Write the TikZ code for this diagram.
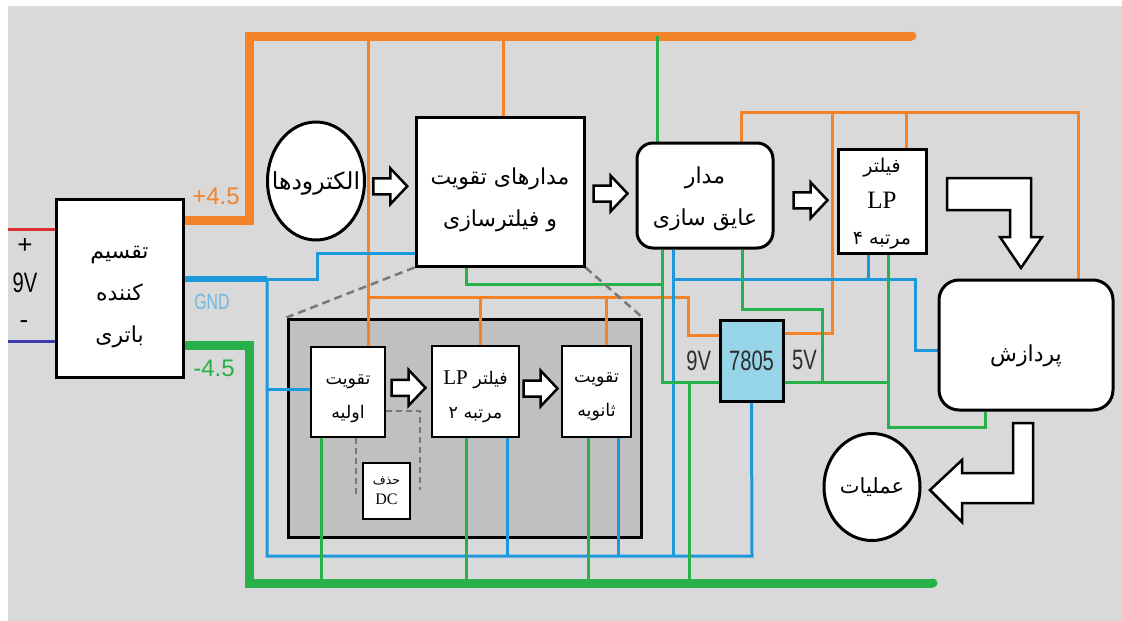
\documentclass[tikz,border=0pt]{standalone}
\usepackage{fontspec}
\setmainfont{Liberation Serif}
\newfontfamily\fafont[Script=Arabic]{DejaVu Sans}
\newfontfamily\lsans{Liberation Sans}
\newfontfamily\lnarrow[FakeStretch=0.72]{Liberation Sans}
\TeXXeTstate=1
\usetikzlibrary{shapes.geometric,calc,backgrounds,positioning}
\pgfdeclarelayer{wires}
\pgfsetlayers{background,wires,main}
\definecolor{wireorange}{RGB}{244,130,40}
\definecolor{wiregreen}{RGB}{40,176,75}
\definecolor{wireblue}{RGB}{30,152,220}
\definecolor{gndblue}{RGB}{110,185,225}
\definecolor{wirered}{RGB}{220,45,55}
\definecolor{wirenavy}{RGB}{60,60,175}
\definecolor{bggray}{RGB}{217,217,217}
\definecolor{insetgray}{RGB}{192,192,192}
\definecolor{regblue}{RGB}{150,212,232}
\definecolor{hintgray}{RGB}{120,120,120}
\definecolor{labelgray}{RGB}{45,45,45}

\begin{document}
\begin{tikzpicture}[x=1pt, y=-1pt,
    box/.style={draw, line width=3pt, fill=white, inner sep=0pt},
    rbox/.style={box, rounded corners=16pt},
    bubble/.style={draw, ellipse, line width=3pt, fill=white, inner sep=0pt},
    inner/.style={box, line width=2.5pt},
    big/.style={align=center, font=\fafont\fontsize{22}{42}\selectfont},
    mid/.style={align=center, font=\fafont\fontsize{17.5}{34}\selectfont},
    wire/.style={line width=3pt},
    bus/.style={line width=9pt},
    hint/.style={draw=hintgray, line width=2.5pt, dash pattern=on 8pt off 5pt},
    arrowshape/.style={draw, fill=white, line width=2.5pt, line join=miter},
    openarrow/.pic={\path[arrowshape] (-17,-8) -- (0,-8) -- (0,-18) -- (17,0) -- (0,18) -- (0,8) -- (-17,8) -- cycle;}
  ]
  \useasboundingbox (0,0) rectangle (1122,621);

  % background and enlarged view of the amplifier block
  \begin{pgfonlayer}{background}
    \fill[white] (0,0) rectangle (1122,621);
    \fill[bggray] (8,6) rectangle (1122,621);
    \node[draw, line width=3pt, fill=insetgray, minimum width=353pt, minimum height=218pt] (inset) at (464.5,428) {};
  \end{pgfonlayer}

  % main blocks
  \node[box, minimum width=127pt, minimum height=178pt,
    label={[big, yshift=-9pt]center:{\beginR تقسیم\endR\\\beginR کننده\endR\\\beginR باتری\endR}}] (batt) at (119.5,288) {};
  \node[bubble, minimum width=97pt, minimum height=118pt,
    label={[font=\fafont\fontsize{23.5}{25}\selectfont, yshift=-2pt]center:{\beginR الکترودها\endR}}] (elec) at (316,181) {};
  \node[box, minimum width=168pt, minimum height=149pt,
    label={[big, yshift=-8pt]center:{\beginR مدارهای تقویت\endR\\\beginR و فیلترسازی\endR}}] (amp) at (500,191.5) {};
  \node[rbox, minimum width=136pt, minimum height=105pt,
    label={[big, yshift=-3pt]center:{\beginR مدار\endR\\\beginR عایق سازی\endR}}] (iso) at (705,195.5) {};
  \node[box, minimum width=88pt, minimum height=104pt,
    label={[align=center, font=\fafont\fontsize{19}{36}\selectfont, yshift=-3pt]center:{\beginR فیلتر\endR\\{\rmfamily\fontsize{25}{30}\selectfont LP}\\\beginR مرتبه ۴\endR}}] (lpf4) at (882,201) {};
  \node[rbox, rounded corners=20pt, minimum width=174pt, minimum height=130pt,
    label={[big, yshift=-11pt]center:{\beginR پردازش\endR}}] (proc) at (1026,345) {};
  \node[bubble, minimum width=96pt, minimum height=107pt,
    label={[font=\fafont\fontsize{21}{25}\selectfont]center:{\beginR عملیات\endR}}] (ops) at (872,487) {};
  \node[draw, line width=3pt, fill=regblue, minimum width=63pt, minimum height=81pt, font=\lnarrow\fontsize{28}{30}\selectfont, text=labelgray] (reg) at (751.5,360.5) {7805};

  % blocks inside the enlarged view
  \node[inner, minimum width=74pt, minimum height=90pt,
    label={[mid, yshift=-7pt]center:{\beginR تقویت\endR\\\beginR اولیه\endR}}] (pre) at (348,392) {};
  \node[inner, minimum width=87pt, minimum height=91pt,
    label={[mid, yshift=-5pt]center:{\beginR فیلتر \beginL{\rmfamily\fontsize{21}{21}\selectfont LP}\endL\endR\\\beginR مرتبه ۲\endR}}] (lpf2) at (475.5,391.5) {};
  \node[inner, minimum width=69pt, minimum height=91pt,
    label={[mid, yshift=-5pt]center:{\beginR تقویت\endR\\\beginR ثانویه\endR}}] (post) at (596.5,391.5) {};
  \node[box, line width=1.5pt, minimum width=47pt, minimum height=56pt,
    label={[align=center, font=\fafont\fontsize{12.5}{20}\selectfont]center:{\beginR حذف\endR\\{\rmfamily\fontsize{16}{16}\selectfont DC}}}] (dcrem) at (386.5,491) {};

  % signal flow arrows
  \pic at ($(elec.east)!0.5!(amp.west)$) {openarrow};
  \pic at ($(amp.east)!0.5!(iso.west)$) {openarrow};
  \pic at ($(iso.east)!0.5!(lpf4.west)+(5,2)$) {openarrow};
  \pic at ($(pre.east)!0.5!(lpf2.west)+(0,-4)$) {openarrow};
  \pic at ($(lpf2.east)!0.5!(post.west)+(0,-3)$) {openarrow};
  \path[arrowshape] (947,178) -- (1031,178) -- (1031,237) -- (1042,237) -- (1021,268) -- (1000,237) -- (1010,237) -- (1010,210) -- (947,210) -- cycle;
  \path[arrowshape] (1013,423) -- (1033,423) -- (1033,503) -- (962,503) -- (962,522) -- (930,490) -- (962,460) -- (962,473) -- (1013,473) -- cycle;

  % supply labels
  \node[font=\lsans\fontsize{24}{24}\selectfont, text=wireorange] (plus-lbl) at (216,196) {+4.5};
  \node[font=\lnarrow\fontsize{22}{22}\selectfont, text=gndblue] (gnd-lbl) at (212,302) {GND};
  \node[font=\lsans\fontsize{24}{24}\selectfont, text=wiregreen] (minus-lbl) at (214,368) {-4.5};
  \node[font=\lsans\fontsize{26}{26}\selectfont] (pos-lbl) at (25,246) {+};
  \node[font=\lnarrow\fontsize{28}{28}\selectfont] (volt-lbl) at (25,283) {9V};
  \node[font=\lsans\fontsize{26}{26}\selectfont] (neg-lbl) at (24,325) {-};
  \node[font=\lnarrow\fontsize{28}{28}\selectfont, text=labelgray, left=4pt of reg] (in-lbl) {9V};
  \node[font=\lnarrow\fontsize{28}{28}\selectfont, text=labelgray, right=4pt of reg] (out-lbl) {5V};

  \begin{pgfonlayer}{wires}
    % battery leads
    \draw[wire, wirered] (8,229) -- (batt.west |- 0,229);
    \draw[wire, wirenavy] (8,341) -- (batt.west |- 0,341);
    % +4.5 rail
    \draw[bus, wireorange] (batt.east |- 0,220) -| (249,36) -- (912,36);
    \fill[wireorange] (912,36) circle (4.5);
    \draw[wire, wireorange] (503,36) -- (503,0 |- amp.north);
    \draw[wire, wireorange] (368,36) -- (368,0 |- pre.north);
    \draw[wire, wireorange] (368,297) -- (688,297) -- (688,335) -- (reg.west |- 0,335);
    \draw[wire, wireorange] (480,297) -- (480,0 |- lpf2.north);
    \draw[wire, wireorange] (606,297) -- (606,0 |- post.north);
    \draw[wire, wireorange] (741,0 |- iso.north) -- (741,112) -- (1078,112) -- (1078,0 |- proc.north);
    \draw[wire, wireorange] (832,112) -- (832,333) -- (reg.east |- 0,333);
    \draw[wire, wireorange] (906,112) -- (906,0 |- lpf4.north);
    % ground
    \draw[line width=6pt, wireblue] (batt.east |- 0,279) -- (267,279);
    \draw[wire, wireblue] (267,279) -- (317,279) -- (317,253) -- (amp.west |- 0,253);
    \draw[wire, wireblue] (267,279) -- (267,556) -- (752,556) -- (reg.south);
    \draw[wire, wireblue] (267,389) -- (pre.west |- 0,389);
    \draw[wire, wireblue] (507,0 |- lpf2.south) -- (507,556);
    \draw[wire, wireblue] (618,0 |- post.south) -- (618,556);
    \draw[wire, wireblue] (673,0 |- iso.south) -- (673,556);
    \draw[wire, wireblue] (673,279) -- (915,279) -- (915,350) -- (proc.west |- 0,350);
    \draw[wire, wireblue] (868,0 |- lpf4.south) -- (868,279);
    % -4.5 rail
    \draw[bus, wiregreen] (batt.east |- 0,345) -| (249,583) -- (933,583);
    \fill[wiregreen] (933,583) circle (4.5);
    \draw[wire, wiregreen] (657,36) -- (657,0 |- iso.north);
    \draw[wire, wiregreen] (466,0 |- amp.south) -- (466,284) -- (662,284);
    \draw[wire, wiregreen] (662,0 |- iso.south) -- (662,382) -- (reg.west |- 0,382);
    \draw[wire, wiregreen] (689,382) -- (689,583);
    \draw[wire, wiregreen] (321,0 |- pre.south) -- (321,583);
    \draw[wire, wiregreen] (466,0 |- lpf2.south) -- (466,583);
    \draw[wire, wiregreen] (588,0 |- post.south) -- (588,583);
    % 5V supply
    \draw[wire, wiregreen] (742,0 |- iso.south) -- (742,309) -- (822,309) -- (822,382);
    \draw[wire, wiregreen] (reg.east |- 0,382) -- (888,382);
    \draw[wire, wiregreen] (888,0 |- lpf4.south) -- (888,427) -- (985,427) -- (985,0 |- proc.south);
    % zoom hints
    \draw[hint] (amp.south west) -- (inset.north west);
    \draw[hint] (amp.south east) -- (inset.north east);
    \draw[hint, line width=1.8pt, dash pattern=on 6pt off 4pt] (pre.east |- 0,411) -- (420,411) -- (420,490);
    \draw[hint, line width=1.8pt, dash pattern=on 6pt off 4pt] (356,0 |- pre.south) -- (356,495);
  \end{pgfonlayer}
\end{tikzpicture}
\end{document}
